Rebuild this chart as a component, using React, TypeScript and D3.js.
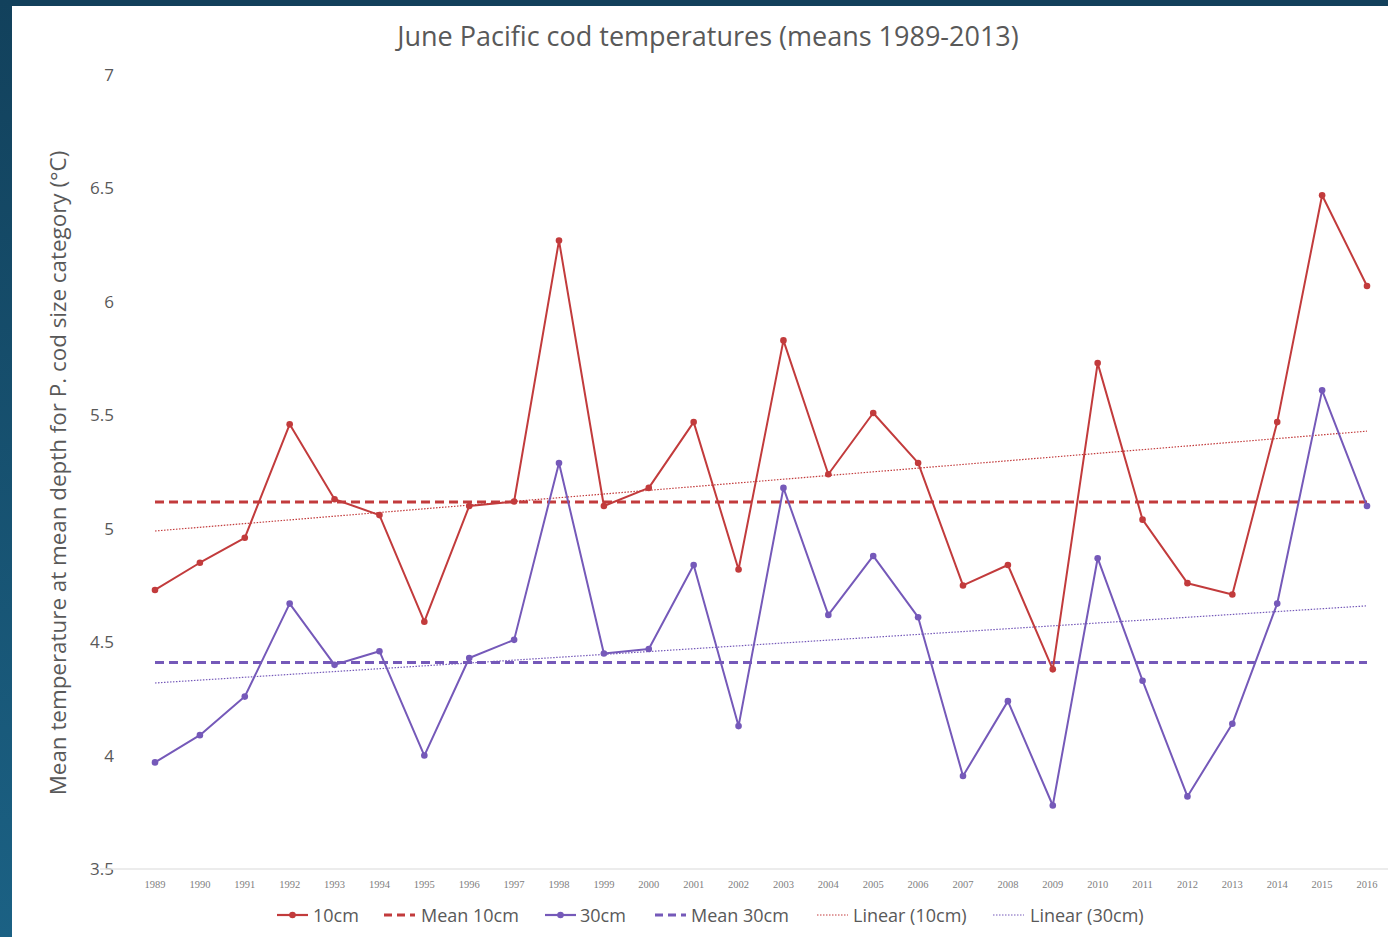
import React from "react";
import * as d3 from "d3";

const years = [1989,1990,1991,1992,1993,1994,1995,1996,1997,1998,1999,2000,2001,2002,2003,2004,2005,2006,2007,2008,2009,2010,2011,2012,2013,2014,2015,2016];
const temp10cm = [4.73,4.85,4.96,5.46,5.13,5.06,4.59,5.10,5.12,6.27,5.10,5.18,5.47,4.82,5.83,5.24,5.51,5.29,4.75,4.84,4.38,5.73,5.04,4.76,4.71,5.47,6.47,6.07];
const temp30cm = [3.97,4.09,4.26,4.67,4.40,4.46,4.00,4.43,4.51,5.29,4.45,4.47,4.84,4.13,5.18,4.62,4.88,4.61,3.91,4.24,3.78,4.87,4.33,3.82,4.14,4.67,5.61,5.10];
const mean10cm = 5.118;
const mean30cm = 4.41;
const linear10cm = [4.99, 5.43]; // at first and last year
const linear30cm = [4.32, 4.66];
const yTicks = [3.5,4,4.5,5,5.5,6,6.5,7];
const yTickLabels = ["3.5","4","4.5","5","5.5","6","6.5","7"];
const legendLabels = ["10cm","Mean 10cm","30cm","Mean 30cm","Linear (10cm)","Linear (30cm)"];

const RED = "#C23B3C";
const PURPLE = "#7559B9";
const FONT = "'Open Sans', 'Noto Sans', sans-serif";

export default function App() {
  const W = 1388, H = 937;
  const x = d3.scaleLinear().domain([1989, 2016]).range([155, 1367]);
  const y = d3.scaleLinear().domain([3.5, 7]).range([869, 75]);
  const line = d3.line<number>().x((_, i) => x(years[i])).y(d => y(d));
  const x0 = years[0], x1 = years[years.length - 1];

  const legendItems = [
    { label: legendLabels[0], lx: 277, tx: 313, color: RED, dash: "", marker: true, w: 2.2 },
    { label: legendLabels[1], lx: 384, tx: 421, color: RED, dash: "8,5", marker: false, w: 3 },
    { label: legendLabels[2], lx: 545, tx: 580, color: PURPLE, dash: "", marker: true, w: 2.2 },
    { label: legendLabels[3], lx: 655, tx: 691, color: PURPLE, dash: "8,5", marker: false, w: 3 },
    { label: legendLabels[4], lx: 817, tx: 853, color: RED, dash: "1.5,1.5", marker: false, w: 1 },
    { label: legendLabels[5], lx: 993, tx: 1030, color: PURPLE, dash: "1.5,1.5", marker: false, w: 1 },
  ];

  return (
    <svg width={W} height={H} style={{ position: "absolute", left: 0, top: 0, display: "block" }}>
      <defs>
        <linearGradient id="side" x1="0" y1="0" x2="0" y2="1">
          <stop offset="0" stopColor="#12415C" />
          <stop offset="1" stopColor="#1B6184" />
        </linearGradient>
      </defs>
      <rect x={0} y={0} width={W} height={H} fill="#ffffff" />
      <rect x={0} y={0} width={W} height={6} fill="#12405B" />
      <rect x={0} y={0} width={12} height={H} fill="url(#side)" />

      <text x={708} y={46} textAnchor="middle" fontFamily={FONT} fontSize={27} fill="#595959">
        June Pacific cod temperatures (means 1989-2013)
      </text>

      <text transform={`translate(66,473) rotate(-90)`} textAnchor="middle" fontFamily={FONT} fontSize={22.4} fill="#595959">
        Mean temperature at mean depth for P. cod size category (°C)
      </text>

      {yTicks.map((t, i) => (
        <text key={t} x={114} y={y(t) + 6} textAnchor="end" fontFamily={FONT} fontSize={17} fill="#595959">
          {yTickLabels[i]}
        </text>
      ))}

      <line x1={100} x2={W} y1={y(3.5)} y2={y(3.5)} stroke="#E6E6E6" strokeWidth={1.5} />

      {years.map(yr => (
        <text key={yr} x={x(yr)} y={888} textAnchor="middle" fontFamily="'Liberation Serif', serif" fontSize={10.5} fill="#808080">
          {yr}
        </text>
      ))}

      {/* linear trends */}
      <line x1={x(x0)} x2={x(x1)} y1={y(linear10cm[0])} y2={y(linear10cm[1])} stroke={RED} strokeWidth={1.2} strokeDasharray="1.5,1.5" />
      <line x1={x(x0)} x2={x(x1)} y1={y(linear30cm[0])} y2={y(linear30cm[1])} stroke={PURPLE} strokeWidth={1.2} strokeDasharray="1.5,1.5" />

      {/* mean lines */}
      <line x1={x(x0)} x2={x(x1)} y1={y(mean10cm)} y2={y(mean10cm)} stroke={RED} strokeWidth={3} strokeDasharray="9,5" />
      <line x1={x(x0)} x2={x(x1)} y1={y(mean30cm)} y2={y(mean30cm)} stroke={PURPLE} strokeWidth={3} strokeDasharray="9,5" />

      {/* series */}
      <path d={line(temp30cm) || ""} fill="none" stroke={PURPLE} strokeWidth={2} strokeLinejoin="round" />
      {temp30cm.map((v, i) => (
        <circle key={"p" + i} cx={x(years[i])} cy={y(v)} r={3.3} fill={PURPLE} />
      ))}
      <path d={line(temp10cm) || ""} fill="none" stroke={RED} strokeWidth={2} strokeLinejoin="round" />
      {temp10cm.map((v, i) => (
        <circle key={"r" + i} cx={x(years[i])} cy={y(v)} r={3.3} fill={RED} />
      ))}

      {/* legend */}
      {legendItems.map(it => (
        <g key={it.label}>
          <line x1={it.lx} x2={it.lx + 31} y1={915} y2={915} stroke={it.color} strokeWidth={it.w} strokeDasharray={it.dash || undefined} />
          {it.marker && <circle cx={it.lx + 15.5} cy={915} r={3.3} fill={it.color} />}
          <text x={it.tx} y={922} fontFamily={FONT} fontSize={18} fill="#595959">{it.label}</text>
        </g>
      ))}
    </svg>
  );
}
